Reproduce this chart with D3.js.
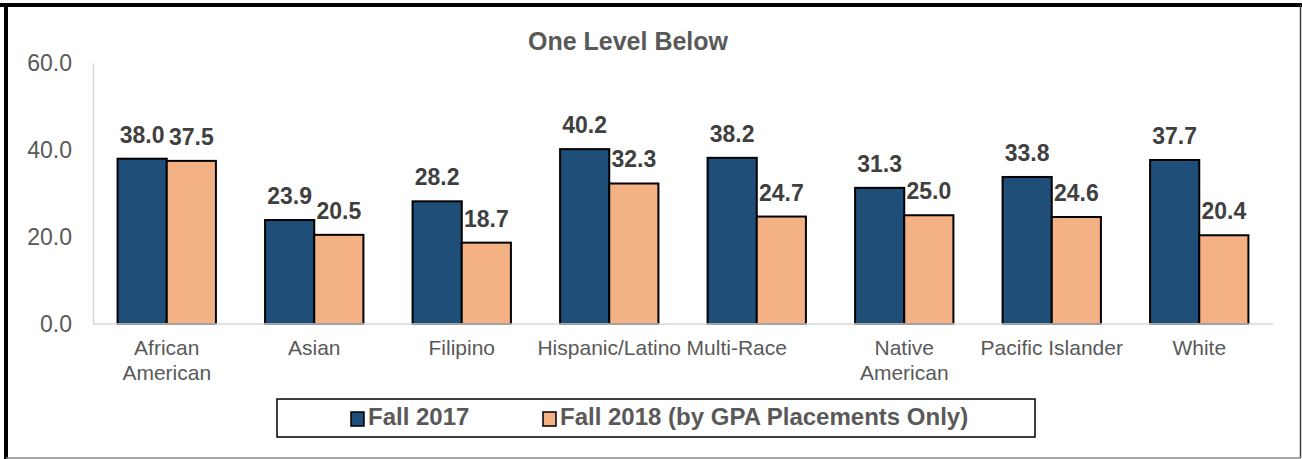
<!DOCTYPE html>
<html>
<head>
<meta charset="utf-8">
<script src="https://cdn.jsdelivr.net/npm/d3@7"></script>
<style>
  html, body { margin: 0; padding: 0; background: #fff; }
  svg { display: block; font-family: "Liberation Sans", Arial, sans-serif; }
</style>
</head>
<body>
<div id="chart"></div>
<script>
var categories = ["African American", "Asian", "Filipino", "Hispanic/Latino", "Multi-Race", "Native American", "Pacific Islander", "White"];
var categoryLines = [["African", "American"], ["Asian"], ["Filipino"], ["Hispanic/Latino"], ["Multi-Race"], ["Native", "American"], ["Pacific Islander"], ["White"]];
var fall2017 = [38.0, 23.9, 28.2, 40.2, 38.2, 31.3, 33.8, 37.7];
var fall2018 = [37.5, 20.5, 18.7, 32.3, 24.7, 25.0, 24.6, 20.4];
var seriesNames = ["Fall 2017", "Fall 2018 (by GPA Placements Only)"];
var yTicks = [0, 20, 40, 60];

var width = 1302, height = 459;
var colors = ["#1f4e79", "#f4b183"];
var textGrey = "#595959";

var svg = d3.select("#chart").append("svg")
    .attr("width", width)
    .attr("height", height);

// outer frame
svg.append("line").attr("x1", 0).attr("x2", width).attr("y1", 5).attr("y2", 5)
    .attr("stroke", "#000").attr("stroke-width", 4);
svg.append("line").attr("x1", 6).attr("x2", 6).attr("y1", 3).attr("y2", height)
    .attr("stroke", "#000").attr("stroke-width", 4);
svg.append("line").attr("x1", 1300.5).attr("x2", 1300.5).attr("y1", 5).attr("y2", 458)
    .attr("stroke", "#404040").attr("stroke-width", 1.5);
svg.append("line").attr("x1", 6).attr("x2", 1301).attr("y1", 458).attr("y2", 458)
    .attr("stroke", "#8c8c8c").attr("stroke-width", 1.5);

// scales
var x0 = d3.scaleBand().domain(categories).range([93, 1273]).paddingInner(0).paddingOuter(0);
var barW = x0.bandwidth() / 3;
var y = d3.scaleLinear().domain([0, 60]).range([324, 63]);

// title
svg.append("text")
    .attr("x", 628).attr("y", 50)
    .attr("text-anchor", "middle")
    .attr("font-size", "25px").attr("font-weight", "bold")
    .attr("fill", textGrey)
    .text("One Level Below");

// y axis
var yAxis = svg.append("g").attr("transform", "translate(93,0)")
    .call(d3.axisLeft(y).tickValues(yTicks).tickFormat(d3.format(".1f")).tickSize(0).tickPadding(21));
yAxis.select(".domain").attr("stroke", "#d9d9d9").attr("stroke-width", 1.5);
yAxis.selectAll("text")
    .attr("font-family", "Liberation Sans, Arial, sans-serif")
    .attr("font-size", "23px").attr("fill", textGrey);

// bars
var groups = svg.selectAll("g.cat")
    .data(categories)
    .enter().append("g")
    .attr("class", "cat")
    .attr("transform", function(d){ return "translate(" + (x0(d) + x0.bandwidth() / 2 - barW) + ",0)"; });

var series = [fall2017, fall2018];
series.forEach(function(vals, s){
    groups.append("rect")
        .attr("x", s * barW)
        .attr("y", function(d, i){ return y(vals[i]); })
        .attr("width", barW)
        .attr("height", function(d, i){ return y(0) - y(vals[i]); })
        .attr("fill", colors[s])
        .attr("stroke", "#000")
        .attr("stroke-width", 2);

    groups.append("text")
        .attr("x", s * barW + barW / 2)
        .attr("y", function(d, i){ return y(vals[i]) - 16; })
        .attr("text-anchor", "middle")
        .attr("font-size", "23px").attr("font-weight", "bold")
        .attr("fill", "#404040")
        .text(function(d, i){ return d3.format(".1f")(vals[i]); });
});

// x baseline
svg.append("line")
    .attr("x1", 93).attr("x2", 1273)
    .attr("y1", y(0)).attr("y2", y(0))
    .attr("stroke", "#d9d9d9").attr("stroke-width", 1.5);

// x labels
var xl = svg.selectAll("text.xlab")
    .data(categories)
    .enter().append("text")
    .attr("class", "xlab")
    .attr("text-anchor", "middle")
    .attr("font-size", "21px")
    .attr("fill", textGrey)
    .attr("transform", function(d){
        var shift = d === "Multi-Race" ? -20 : 0;
        return "translate(" + (x0(d) + x0.bandwidth() / 2 + shift) + ",355)";
    });
xl.selectAll("tspan")
    .data(function(d, i){ return categoryLines[i]; })
    .enter().append("tspan")
    .attr("x", 0)
    .attr("y", function(d, i){ return i * 25; })
    .text(function(d){ return d; });

// legend
var legend = svg.append("g");
legend.append("rect")
    .attr("x", 277).attr("y", 399).attr("width", 758).attr("height", 38)
    .attr("fill", "#fff").attr("stroke", "#000").attr("stroke-width", 1.5);
var itemX = [351, 543];
seriesNames.forEach(function(name, s){
    legend.append("rect")
        .attr("x", itemX[s]).attr("y", 412).attr("width", 13).attr("height", 14)
        .attr("fill", colors[s]).attr("stroke", "#000").attr("stroke-width", 1.5);
    legend.append("text")
        .attr("x", itemX[s] + 17).attr("y", 425)
        .attr("font-size", "24px").attr("font-weight", "bold")
        .attr("fill", textGrey)
        .text(name);
});
</script>
</body>
</html>
